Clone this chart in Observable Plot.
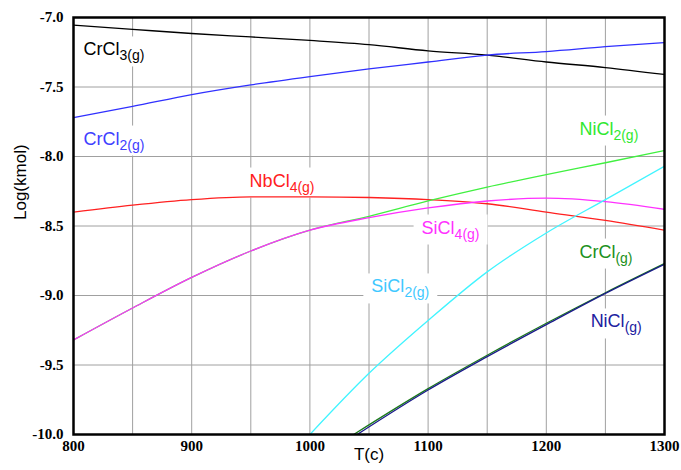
<!DOCTYPE html>
<html><head><meta charset="utf-8">
<script src="https://cdn.jsdelivr.net/npm/d3@7"></script>
<script src="https://cdn.jsdelivr.net/npm/@observablehq/plot@0.6"></script>
<style>body{margin:0;background:#fff}</style>
</head><body><div id="chart"></div>
<script>
// Temperatures (°C)
const temps = [800, 850, 900, 950, 1000, 1050, 1100, 1150, 1200, 1250, 1300];
const crcl3 = [-7.055, -7.085, -7.115, -7.14, -7.165, -7.195, -7.24, -7.27, -7.32, -7.36, -7.41];
const crcl2 = [-7.72, -7.64, -7.555, -7.485, -7.425, -7.37, -7.32, -7.27, -7.245, -7.21, -7.18];
const nbcl4 = [-8.40, -8.35, -8.31, -8.29, -8.29, -8.295, -8.31, -8.34, -8.40, -8.46, -8.53];
const sicl4 = [-9.32, -9.09, -8.87, -8.68, -8.53, -8.44, -8.37, -8.32, -8.30, -8.325, -8.38];
const nicl2 = [-9.32, -9.09, -8.87, -8.68, -8.53, -8.43, -8.32, -8.22, -8.13, -8.045, -7.957];
const sicl2T = [1000, 1050, 1100, 1150, 1200, 1250, 1300];
const sicl2 = [-10.0, -9.56, -9.18, -8.83, -8.55, -8.31, -8.07];
const crclT = [1037, 1100, 1150, 1200, 1250, 1300];
const crcl = [-10.0, -9.67, -9.43, -9.20, -8.98, -8.77];
const niclT = [1040, 1100, 1150, 1200, 1250, 1300];
const nicl = [-10.0, -9.68, -9.44, -9.21, -8.985, -8.775];

// Tick values
const xTicks = [800, 900, 1000, 1100, 1200, 1300];
const yTicks = [-10.0, -9.5, -9.0, -8.5, -8.0, -7.5, -7.0];
const xGrid = [850, 900, 950, 1000, 1050, 1100, 1150, 1200, 1250];
const yGrid = [-9.5, -9.0, -8.5, -8.0, -7.5];

// Curve labels
const labelNames = ["CrCl", "CrCl", "NbCl", "NiCl", "SiCl", "SiCl", "CrCl", "NiCl"];
const labelSubs = ["3(g)", "2(g)", "4(g)", "2(g)", "4(g)", "2(g)", "(g)", "(g)"];
const labelT = [808.5, 808.5, 949, 1228, 1094.5, 1052, 1228, 1237.5];
const labelV = [-7.273, -7.914, -8.216, -7.842, -8.554, -8.978, -8.727, -9.23];
const labelColors = ["#000000", "#4040ff", "#ff2020", "#30e830", "#ff30ff", "#40c8ff", "#209020", "#2020a0"];

const toRows = (T, V) => T.map((t, i) => ({T: t, v: V[i]}));
const labels = labelNames.map((n, i) => ({text: n + "|" + labelSubs[i], T: labelT[i], v: labelV[i], c: labelColors[i]}));

const lineOpts = (color) => ({x: "T", y: "v", stroke: color, strokeWidth: 1.3, curve: "monotone-x", clip: true});
const tickFont = {fontFamily: "Liberation Serif", fontWeight: "bold", fontSize: 15, fill: "black"};

const chart = Plot.plot({
  width: 681, height: 470,
  marginLeft: 73, marginRight: 17, marginTop: 17, marginBottom: 36,
  x: {domain: [800, 1300], axis: null},
  y: {domain: [-10, -7], axis: null},
  marks: [
    Plot.ruleX(xGrid, {x: d => d, stroke: "#a0a0a0", strokeWidth: 1}),
    Plot.ruleY(yGrid, {y: d => d, stroke: "#a0a0a0", strokeWidth: 1}),
    Plot.text(labels, {x: "T", y: "v", text: "text", fill: "c", textAnchor: "start", lineAnchor: "bottom", fontFamily: "Liberation Sans", fontSize: 18}),
    Plot.line(toRows(temps, crcl3), lineOpts("#000000")),
    Plot.line(toRows(temps, crcl2), lineOpts("#3030ff")),
    Plot.line(toRows(temps, nbcl4), lineOpts("#ff2020")),
    Plot.line(toRows(temps, nicl2), lineOpts("#40f040")),
    Plot.line(toRows(temps, sicl4), lineOpts("#ff30ff")),
    Plot.line(toRows(sicl2T, sicl2), lineOpts("#40f4ff")),
    Plot.line(toRows(crclT, crcl), lineOpts("#1a7a1a")),
    Plot.line(toRows(niclT, nicl), lineOpts("#1a1a8a")),
    Plot.frame({stroke: "black", strokeWidth: 2.5}),
    Plot.text(xTicks, {x: d => d, frameAnchor: "bottom", dy: 16, text: d => String(d), ...tickFont}),
    Plot.text(yTicks, {y: d => d, frameAnchor: "left", dx: -10, textAnchor: "end", text: d => d.toFixed(1), ...tickFont}),
    Plot.text(["T(c)"], {frameAnchor: "bottom", dy: 25, text: d => d, fontFamily: "Liberation Sans", fontSize: 17, fill: "black"}),
    Plot.text(["Log(kmol)"], {frameAnchor: "left", dx: -53, dy: -6, rotate: -90, text: d => d, fontFamily: "Liberation Sans", fontSize: 17, fill: "black"})
  ]
});
document.getElementById("chart").append(chart);

// Rich-text subscripts and white label backgrounds
d3.select(chart).selectAll("text").each(function () {
  const t = this.textContent;
  if (!t.includes("|")) return;
  const [a, b] = t.split("|");
  const s = d3.select(this);
  s.text(null);
  s.append("tspan").text(a);
  s.append("tspan").attr("dy", 5).attr("font-size", 14).text(b);
  const bb = this.getBBox();
  const r = d3.select(this.parentNode).insert("rect", ":first-child")
    .attr("x", bb.x - 8).attr("y", bb.y - 3)
    .attr("width", bb.width + 16).attr("height", bb.height + 6)
    .attr("fill", "white").attr("stroke", "none");
  const tr = this.getAttribute("transform");
  if (tr) r.attr("transform", tr);
});
</script>
</body></html>
